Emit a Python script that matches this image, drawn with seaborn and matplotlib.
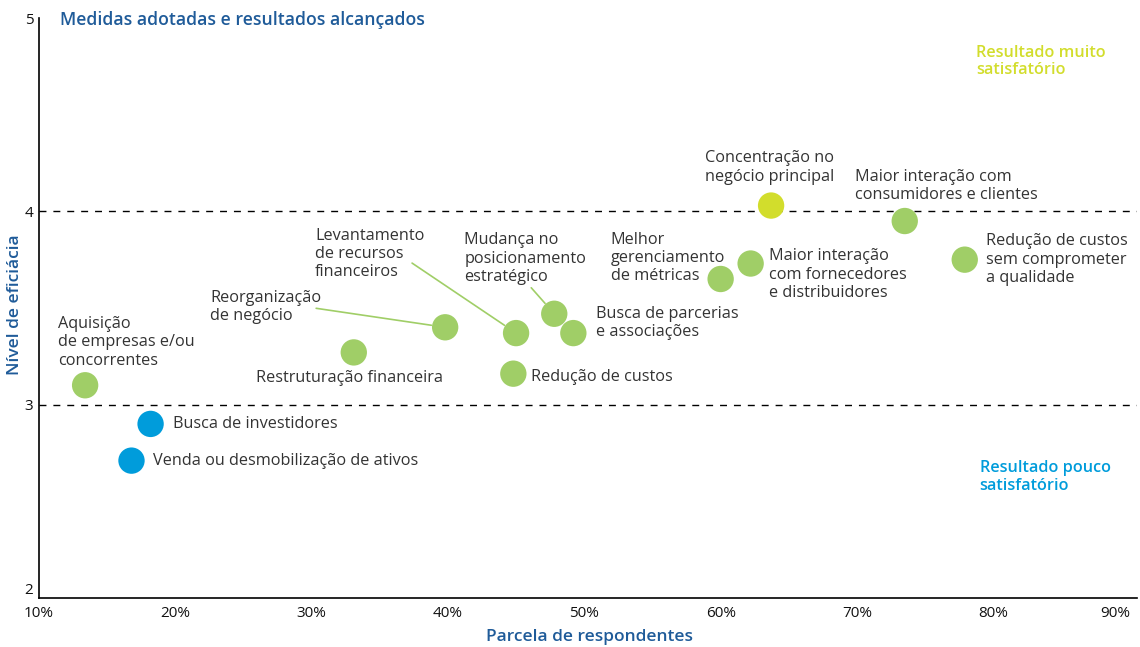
import pandas as pd
import matplotlib
matplotlib.use("Agg")
import matplotlib.pyplot as plt
import seaborn as sns

# Data
labels = [
    "Aquisição\nde empresas e/ou\nconcorrentes",
    "Busca de investidores",
    "Venda ou desmobilização de ativos",
    "Restruturação financeira",
    "Reorganização\nde negócio",
    "Levantamento\nde recursos\nfinanceiros",
    "Redução de custos",
    "Mudança no\nposicionamento\nestratégico",
    "Busca de parcerias\ne associações",
    "Melhor\ngerenciamento\nde métricas",
    "Maior interação\ncom fornecedores\ne distribuidores",
    "Concentração no\nnegócio principal",
    "Maior interação com\nconsumidores e clientes",
    "Redução de custos\nsem comprometer\na qualidade",
]
share = [13.4, 18.2, 16.8, 33.1, 39.8, 45.0, 44.8, 47.8, 49.2, 60.0, 62.2, 63.7, 73.5, 77.9]
efficacy = [3.10, 2.90, 2.71, 3.27, 3.40, 3.37, 3.16, 3.47, 3.37, 3.65, 3.73, 4.03, 3.95, 3.75]
group = ["mid", "low", "low", "mid", "mid", "mid", "mid", "mid", "mid", "mid", "mid", "high", "mid", "mid"]

x_ticks = [10, 20, 30, 40, 50, 60, 70, 80, 90]
y_ticks = [2, 3, 4, 5]

df = pd.DataFrame({"label": labels, "share": share, "efficacy": efficacy, "group": group})

# label offsets from each point, in pixels (dx, dy; dy up)
offsets = [(-27, 43), (22, 0), (22, 0), (-98, -26), (-235, 20), (-201, 79), (18, -3),
           (-90, 55), (23, 10), (-110, 21), (18, -11), (-66, 38), (-50, 35), (21, 0)]
# leader lines: index -> start offset in pixels
leaders = {4: (-129, 19), 5: (-104, 70), 7: (-23, 26)}

GREEN = "#A0CE67"
YELLOW = "#D2DD2C"
BLUE = "#009CDB"
TITLE_BLUE = "#1F5B99"
TEXT = "#333333"
palette = {"mid": GREEN, "high": YELLOW, "low": BLUE}

sns.set_theme(style="white")
plt.rcParams["font.family"] = ["Open Sans", "DejaVu Sans"]

fig = plt.figure(figsize=(11.4, 6.47), dpi=100)
ax = fig.add_axes([0.034, 0.076, 0.963, 0.896])

sns.scatterplot(data=df, x="share", y="efficacy", hue="group", palette=palette,
                s=360, linewidth=0, legend=False, ax=ax, zorder=3)

ax.axhline(3, color="black", lw=1, ls=(0, (5, 5)), zorder=1)
ax.axhline(4, color="black", lw=1, ls=(0, (5, 5)), zorder=1)

px = 0.72  # pixels -> points
for i, row in df.iterrows():
    dx, dy = offsets[i]
    ax.annotate(row["label"], (row["share"], row["efficacy"]),
                xytext=(dx * px, dy * px), textcoords="offset points",
                ha="left", va="center", fontsize=11.7, color=TEXT, linespacing=1.2)
for i, (dx, dy) in leaders.items():
    ax.annotate("", (share[i], efficacy[i]), xytext=(dx * px, dy * px),
                textcoords="offset points",
                arrowprops=dict(arrowstyle="-", color=GREEN, lw=1.2, shrinkA=0, shrinkB=10))

ax.set_xlim(10, 90.5)
ax.set_ylim(2, 5)
ax.set_xticks(x_ticks)
ax.set_xticklabels([f"{v}%" for v in x_ticks])
ax.set_yticks(y_ticks)
ax.set_yticklabels([str(v) for v in y_ticks])
ax.tick_params(axis="both", length=0, labelsize=11, labelcolor="#111111")
ax.tick_params(axis="x", pad=6)
ax.tick_params(axis="y", pad=4)
for t in ax.get_xticklabels() + ax.get_yticklabels():
    t.set_fontweight("medium")
ax.get_xticklabels()[-1].set_horizontalalignment("right")
ax.get_yticklabels()[0].set_verticalalignment("bottom")

for side in ["top", "right"]:
    ax.spines[side].set_visible(False)
for side in ["left", "bottom"]:
    ax.spines[side].set_color("black")
    ax.spines[side].set_linewidth(1.2)

ax.set_xlabel("Parcela de respondentes", fontsize=12.5, color=TITLE_BLUE, fontweight="semibold")
ax.set_ylabel("Nível de eficiácia", fontsize=12.5, color=TITLE_BLUE, fontweight="semibold")
ax.xaxis.set_label_coords(0.502, -0.067)
ax.xaxis.label.set_va("center")
ax.yaxis.set_label_coords(-0.022, 0.505)
ax.yaxis.label.set_va("center")

ax.text(0.019, 0.997, "Medidas adotadas e resultados alcançados", transform=ax.transAxes,
        ha="left", va="center", fontsize=12.7, color=TITLE_BLUE, fontweight="semibold")
ax.text(0.854, 0.925, "Resultado muito\nsatisfatório", transform=ax.transAxes,
        ha="left", va="center", fontsize=11.7, color=YELLOW, fontweight="semibold", linespacing=1.15)
ax.text(0.857, 0.209, "Resultado pouco\nsatisfatório", transform=ax.transAxes,
        ha="left", va="center", fontsize=11.7, color=BLUE, fontweight="semibold", linespacing=1.15)

fig.savefig("out.png", dpi=100)
